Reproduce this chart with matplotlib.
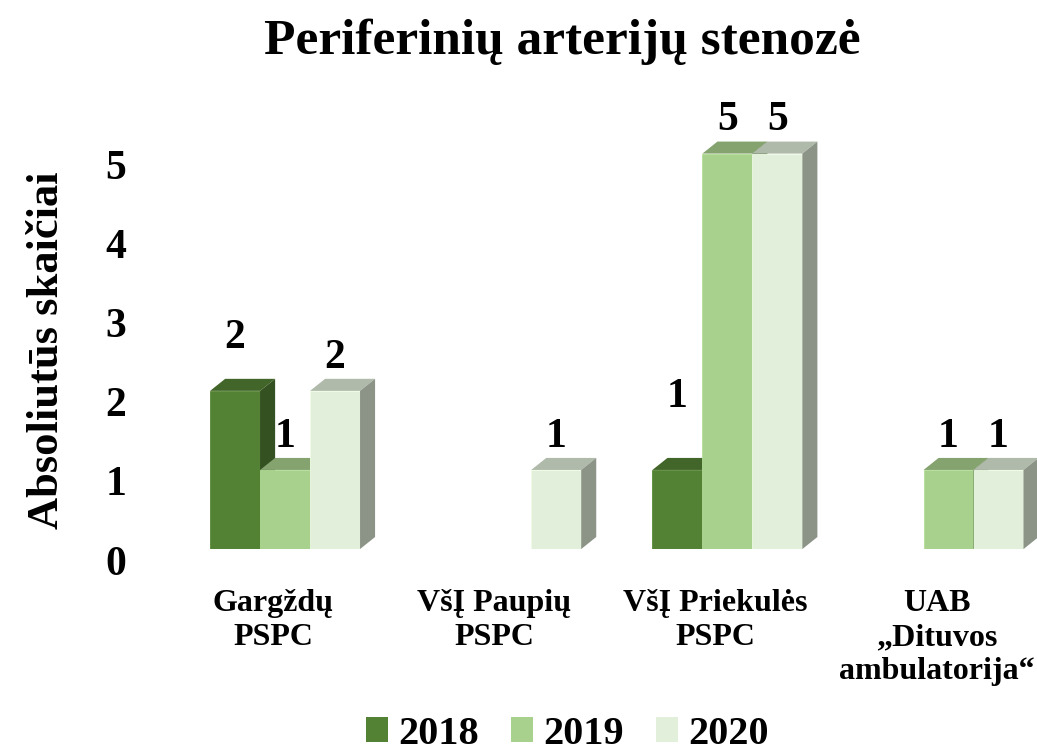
import numpy as np
import matplotlib
matplotlib.use("Agg")
import matplotlib.pyplot as plt
from matplotlib.patches import Polygon
from matplotlib.transforms import ScaledTranslation
from matplotlib.colors import to_rgb

plt.rcParams['font.family'] = ['Liberation Serif', 'DejaVu Serif']
plt.rcParams['font.weight'] = 'bold'

# data
categories = ['Gargždų\nPSPC', 'VšĮ Paupių\nPSPC', 'VšĮ Priekulės\nPSPC',
              'UAB\n„Dituvos\nambulatorija“']
years = ['2018', '2019', '2020']
v2018 = [2, 0, 1, 0]
v2019 = [1, 0, 5, 1]
v2020 = [2, 1, 5, 1]
colors = ['#548235', '#A9D18E', '#E2EFDA']

series = [v2018, v2019, v2020]

fig = plt.figure(figsize=(10.37, 7.55), dpi=100)
ax = fig.add_axes([0.164, 0.2728, 0.836, 0.595])

bw = 0.226          # bar width (group spacing = 1)
ddx, ddy = 0.068, 0.152   # fake 3d depth in data units

def shade(c, f):
    r, g, b = to_rgb(c)
    return (min(r * f, 1), min(g * f, 1), min(b * f, 1))

# labels of the 2018 series were dragged up a bit in the original
label_lift = {(0, 0): 0.67, (0, 2): 0.92}

x = np.arange(len(categories))
z = 2
for i, vals in enumerate(series):
    xs = x + (i - 1) * bw
    for xc, v in zip(xs, vals):
        if v == 0:
            continue
        x0, x1 = xc - bw / 2, xc + bw / 2
        ax.bar(xc, v, width=bw, color=colors[i], edgecolor=shade(colors[i], 1.06),
               linewidth=0.6, zorder=z)
        top = Polygon([(x0, v), (x1, v), (x1 + ddx, v + ddy), (x0 + ddx, v + ddy)],
                      closed=True, fc=shade(colors[i], 0.78), ec='none', zorder=z)
        side = Polygon([(x1, 0), (x1 + ddx, ddy), (x1 + ddx, v + ddy), (x1, v)],
                       closed=True, fc=shade(colors[i], 0.62), ec='none', zorder=z)
        ax.add_patch(top)
        ax.add_patch(side)
        z += 1
    for j, (xc, v) in enumerate(zip(xs, vals)):
        if v == 0:
            continue
        off = label_lift.get((i, j), 0.42)
        ax.text(xc, v + off, str(v), ha='center', va='center',
                fontsize=30, fontweight='bold', zorder=50)

ax.set_xlim(-0.52, 3.40)
ax.set_ylim(0, 5.68)

ax.set_yticks(range(6))
ax.set_yticklabels([str(t) for t in range(6)], fontsize=30, fontweight='bold')
ax.tick_params(axis='y', length=0, pad=31.5)
for lab in ax.get_yticklabels():
    lab.set_transform(lab.get_transform() + ScaledTranslation(0, -0.11, fig.dpi_scale_trans))

ax.set_xticks(x)
ax.set_xticklabels(categories, fontsize=23, fontweight='bold', linespacing=1.22)
ax.tick_params(axis='x', length=0, pad=29)
for lab in ax.get_xticklabels():
    lab.set_transform(lab.get_transform() + ScaledTranslation(-0.12, 0, fig.dpi_scale_trans))

for s in ax.spines.values():
    s.set_visible(False)

fig.text(0.542, 0.945, 'Periferinių arterijų stenozė', ha='center', va='center',
         fontsize=37, fontweight='bold')
fig.text(0.045, 0.536, 'Absoliutūs skaičiai', ha='center', va='center',
         rotation=90, fontsize=32, fontweight='bold')

handles = [plt.Rectangle((0, 0), 1, 1, fc=c, ec='none') for c in colors]
fig.legend(handles, years, loc='center', bbox_to_anchor=(0.547, 0.027), ncol=3,
           frameon=False, handlelength=0.55, handleheight=0.57,
           handletextpad=0.25, columnspacing=0.8, borderpad=0.1,
           prop={'size': 29, 'weight': 'bold'})

fig.savefig('out.png', dpi=100)
